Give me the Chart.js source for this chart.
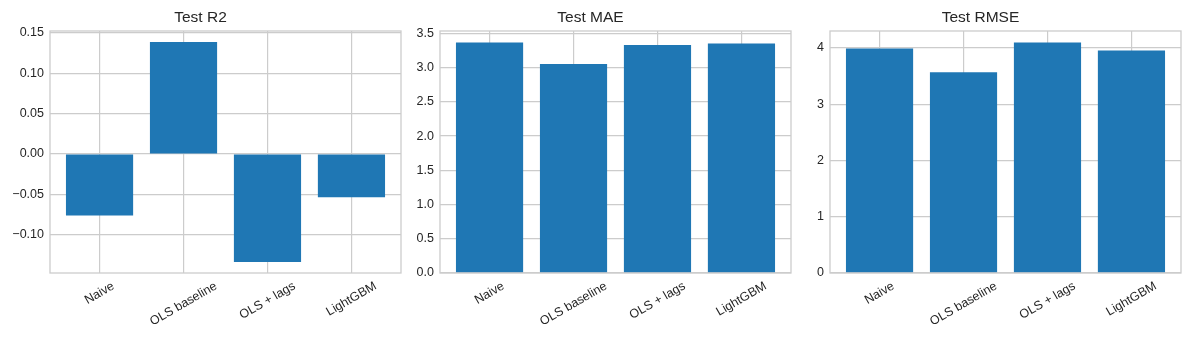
<!DOCTYPE html>
<html>
<head>
<meta charset="utf-8">
<script src="https://cdn.jsdelivr.net/npm/chart.js@4.4.1/dist/chart.umd.min.js"></script>
<style>
  body { margin: 0; background: #fff; }
  .panel { position: absolute; top: 0; width: 402px; height: 340px; }
</style>
</head>
<body>
<div class="panel" style="left:0px"><canvas id="r2"></canvas></div>
<div class="panel" style="left:390px"><canvas id="mae"></canvas></div>
<div class="panel" style="left:780px"><canvas id="rmse"></canvas></div>
<script>
const categories = ['Naive', 'OLS baseline', 'OLS + lags', 'LightGBM'];

const r2Values = [-0.0762, 0.1387, -0.1338, -0.0535];
const maeValues = [3.367, 3.052, 3.329, 3.354];
const rmseValues = [3.99, 3.569, 4.095, 3.954];

const r2Ticks = [-0.10, -0.05, 0.00, 0.05, 0.10, 0.15];
const maeTicks = [0.0, 0.5, 1.0, 1.5, 2.0, 2.5, 3.0, 3.5];
const rmseTicks = [0, 1, 2, 3, 4];

const FONT = "'Liberation Sans', Arial, sans-serif";
const TEXT = '#262626';
const GRID = '#cccccc';
const BAR = '#1f77b4';

// matplotlib style 5% margins, bar bottoms stick to 0
function limits(vals) {
  const lo = Math.min(0, ...vals), hi = Math.max(0, ...vals);
  const r = hi - lo;
  return { min: lo < 0 ? lo - 0.05 * r : 0, max: hi > 0 ? hi + 0.05 * r : 0 };
}

// box around the plot + rotated, centred x labels (like matplotlib rotation=30)
const framePlugin = {
  id: 'frame',
  afterDatasetsDraw(chart) {
    const { ctx, chartArea: a } = chart;
    ctx.save();
    ctx.strokeStyle = GRID;
    ctx.lineWidth = 1.3;
    ctx.strokeRect(a.left, a.top, a.right - a.left, a.bottom - a.top);
    ctx.restore();
  },
  afterDraw(chart) {
    const { ctx } = chart;
    const xs = chart.scales.x;
    const size = 12.5;
    const ang = 30 * Math.PI / 180;
    ctx.save();
    ctx.font = size + 'px ' + FONT;
    ctx.fillStyle = TEXT;
    ctx.textAlign = 'center';
    ctx.textBaseline = 'middle';
    categories.forEach((lab, i) => {
      const x = xs.getPixelForValue(i);
      const w = ctx.measureText(lab).width;
      const h = size * 1.15;
      const boxH = w * Math.sin(ang) + h * Math.cos(ang);
      const cy = xs.top + 6 + boxH / 2;
      ctx.save();
      ctx.translate(x, cy);
      ctx.rotate(-ang);
      ctx.fillText(lab, 0, 0);
      ctx.restore();
    });
    ctx.restore();
  }
};

function makePanel(id, title, values, ticks, decimals) {
  const lim = limits(values);
  new Chart(document.getElementById(id), {
    type: 'bar',
    data: {
      datasets: [{
        data: values.map((v, i) => ({ x: i, y: v })),
        backgroundColor: BAR,
        borderWidth: 0,
        inflateAmount: 0,
        categoryPercentage: 0.8,
        barPercentage: 1.0
      }]
    },
    options: {
      responsive: true,
      maintainAspectRatio: false,
      animation: false,
      layout: { padding: { left: 0, right: 1, top: 0, bottom: 0 } },
      plugins: {
        legend: { display: false },
        tooltip: { enabled: false },
        title: {
          display: true,
          text: title,
          color: TEXT,
          font: { family: FONT, size: 15.5, weight: 'normal' },
          padding: { top: 8, bottom: 4.4 }
        }
      },
      scales: {
        x: {
          type: 'linear',
          min: -0.59,
          max: 3.59,
          offset: false,
          afterBuildTicks: s => { s.ticks = categories.map((c, i) => ({ value: i })); },
          afterFit: s => { s.height = 67; },
          ticks: { display: false },
          grid: { color: GRID, lineWidth: 1.2, drawTicks: false, offset: false },
          border: { display: false }
        },
        y: {
          min: lim.min,
          max: lim.max,
          afterBuildTicks: s => { s.ticks = ticks.map(v => ({ value: v })); },
          afterFit: s => { s.width = 50; },
          ticks: {
            color: TEXT,
            padding: 6,
            font: { family: FONT, size: 12.5 },
            callback: v => Number(v).toFixed(decimals).replace('-', '\u2212')
          },
          grid: { color: GRID, lineWidth: 1.2, drawTicks: false },
          border: { display: false }
        }
      }
    },
    plugins: [framePlugin]
  });
}

makePanel('r2', 'Test R2', r2Values, r2Ticks, 2);
makePanel('mae', 'Test MAE', maeValues, maeTicks, 1);
makePanel('rmse', 'Test RMSE', rmseValues, rmseTicks, 0);
</script>
</body>
</html>
